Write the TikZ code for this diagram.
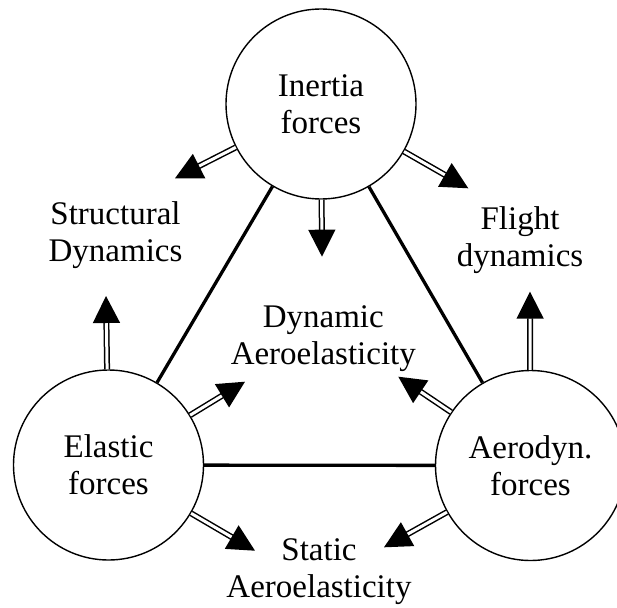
\documentclass[tikz,border=0pt]{standalone}
\usepackage{fontspec}
\setmainfont{Liberation Serif}
\usetikzlibrary{arrows.meta}
\begin{document}
\begin{tikzpicture}[x=1pt,y=-1pt,
  force/.style={circle,draw,line width=1.4pt,minimum size=190pt,inner sep=0pt,
    align=center,font=\fontsize{33pt}{37pt}\selectfont},
  caption/.style={align=center,inner sep=0pt,anchor=base,
    font=\fontsize{33pt}{37pt}\selectfont},
  link/.style={line width=3.3pt},
  push/.style={double,line width=1.5pt,double distance=3pt,
    -{Triangle[length=27pt,width=27pt]}},
]
\useasboundingbox (0,0) rectangle (617,607);
\clip (0,0) rectangle (617,607);

% the three force circles
\node[force] (inertia) at (321,104)   {Inertia\\forces};
\node[force] (elastic) at (108.5,465) {Elastic\\forces};
\node[force] (aero)    at (530.5,465.5) {Aerodyn.\\forces};

% discipline captions (anchored on the baseline of the last line)
\node[caption] (sd) at (115.5,261.7) {Structural\\Dynamics};
\node[caption] (fd) at (520,266)     {Flight\\dynamics};
\node[caption] (da) at (323.3,364)   {Dynamic\\Aeroelasticity};
\node[caption] (sa) at (319,597)     {Static\\Aeroelasticity};

% arrow tips
\coordinate (tSD1) at (175,178.3);
\coordinate (tFD1) at (468.3,188.3);
\coordinate (tDA1) at (322,256.7);
\coordinate (tSD2) at (106,296);
\coordinate (tDA2) at (245,381.7);
\coordinate (tSA1) at (255,550.7);
\coordinate (tFD2) at (530,291.7);
\coordinate (tDA3) at (398.3,376.7);
\coordinate (tSA2) at (384,547.3);

% couplings between the forces
\draw[link] (inertia) -- (elastic);
\draw[link] (inertia) -- (aero);
\draw[link] (elastic) -- (aero);

% contributions to each discipline
\draw[push] (inertia) -- (tSD1);
\draw[push] (inertia) -- (tFD1);
\draw[push] (inertia) -- (tDA1);
\draw[push] (elastic) -- (tSD2);
\draw[push] (elastic) -- (tDA2);
\draw[push] (elastic) -- (tSA1);
\draw[push] (aero) -- (tFD2);
\draw[push] (aero) -- (tDA3);
\draw[push] (aero) -- (tSA2);
\end{tikzpicture}
\end{document}
